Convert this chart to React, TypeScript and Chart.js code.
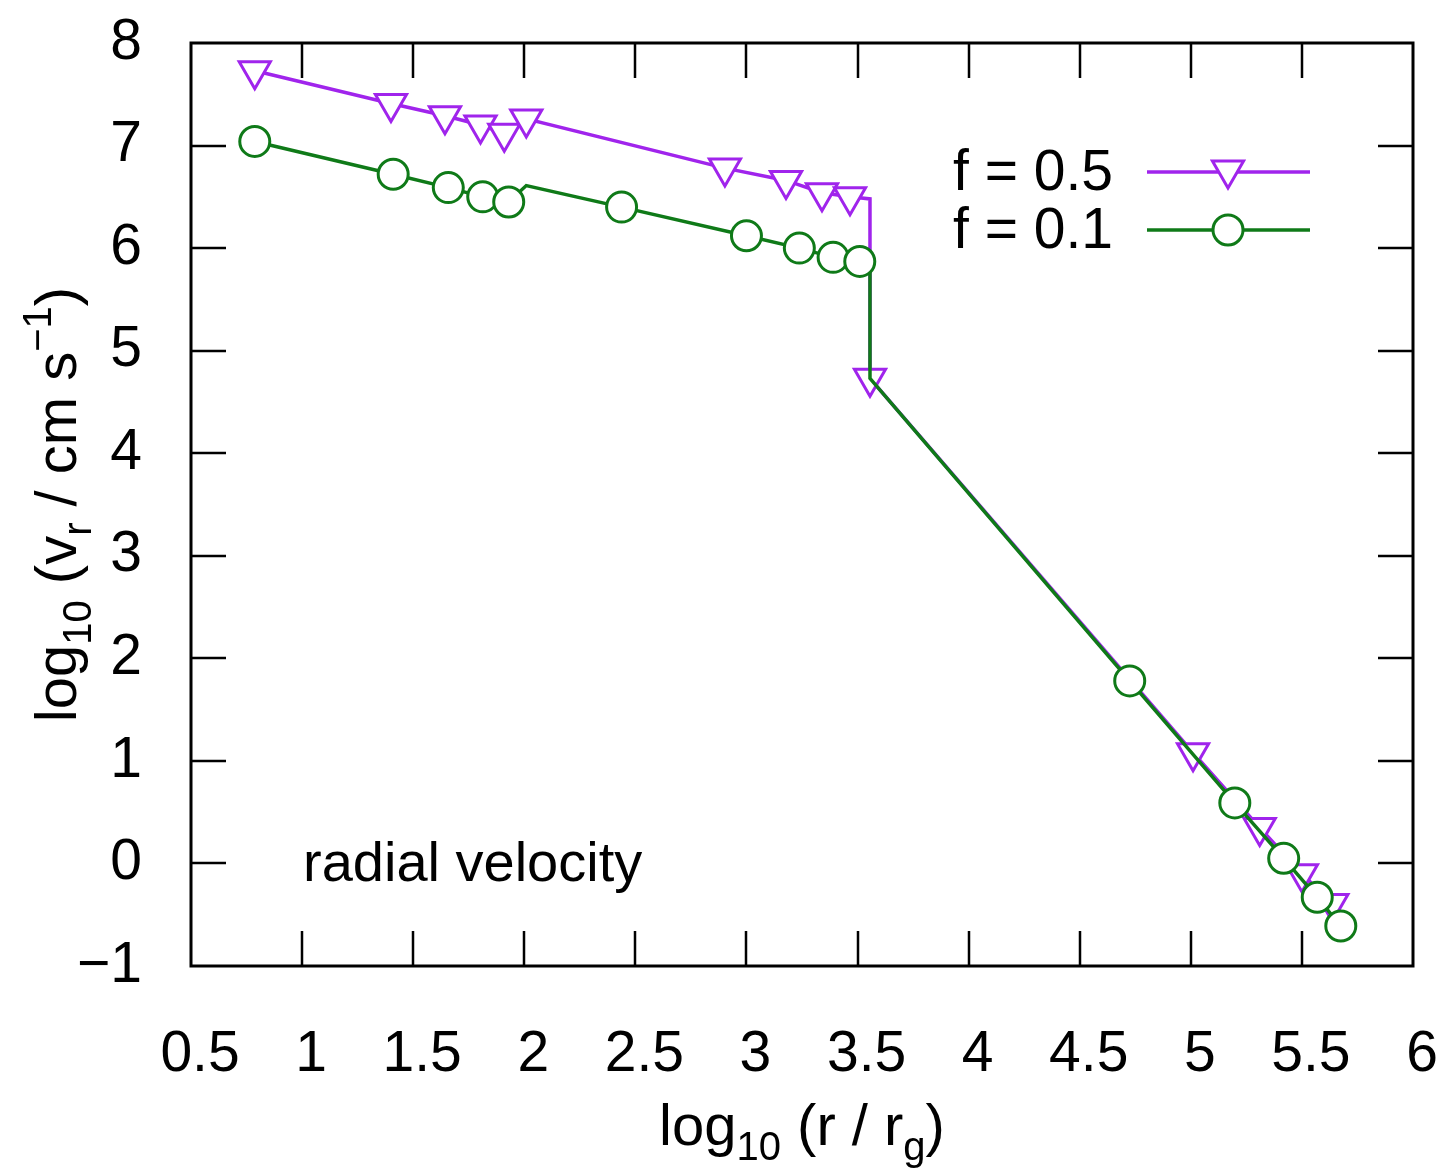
import React, { useEffect, useRef } from 'react';
import { Chart, registerables } from 'chart.js';

Chart.register(...registerables);

// ---- data ----
const X_TICKS = [0.5, 1, 1.5, 2, 2.5, 3, 3.5, 4, 4.5, 5, 5.5, 6];
const X_TICK_LABELS = ['0.5', '1', '1.5', '2', '2.5', '3', '3.5', '4', '4.5', '5', '5.5', '6'];
const Y_TICKS = [-1, 0, 1, 2, 3, 4, 5, 6, 7, 8];
const Y_TICK_LABELS = ['\u22121', '0', '1', '2', '3', '4', '5', '6', '7', '8'];

const SERIES_LABELS = ['f = 0.5', 'f = 0.1'];
const ANNOTATION = 'radial velocity';

// f = 0.5 (purple, down triangles)
const F05_X = [0.787, 1.40, 1.643, 1.803, 1.91, 2.009, 2.903, 3.178, 3.34, 3.466, 3.556, 3.556, 5.01, 5.31, 5.50, 5.637];
const F05_Y = [7.73, 7.41, 7.29, 7.20, 7.12, 7.26, 6.78, 6.66, 6.54, 6.50, 6.48, 4.73, 1.08, 0.35, -0.10, -0.39];
const F05_MARK = [1, 1, 1, 1, 1, 1, 1, 1, 1, 1, 0, 1, 1, 1, 1, 1];

// f = 0.1 (green, circles)
const F01_X = [0.787, 1.41, 1.658, 1.813, 1.93, 2.009, 2.438, 3.0, 3.238, 3.39, 3.51, 3.556, 3.556, 4.725, 5.198, 5.418, 5.569, 5.675];
const F01_Y = [7.04, 6.72, 6.59, 6.50, 6.45, 6.61, 6.40, 6.12, 6.00, 5.91, 5.87, 5.86, 4.73, 1.78, 0.59, 0.05, -0.33, -0.61];
const F01_MARK = [1, 1, 1, 1, 1, 0, 1, 1, 1, 1, 1, 0, 0, 1, 1, 1, 1, 1];

const PURPLE = '#a024ec';
const GREEN = '#0f7a18';
const FONT = '"Liberation Sans", Arial, Helvetica, sans-serif';
const FS = 57;
const FT = 58;
const FSUB = 40;

type Part = { t: string; s: number; dy: number };

function drawRich(ctx: CanvasRenderingContext2D, parts: Part[], cx: number, baseY: number) {
  let total = 0;
  for (const p of parts) {
    ctx.font = `${p.s}px ${FONT}`;
    total += ctx.measureText(p.t).width;
  }
  let x = cx - total / 2;
  ctx.textAlign = 'left';
  ctx.textBaseline = 'alphabetic';
  for (const p of parts) {
    ctx.font = `${p.s}px ${FONT}`;
    ctx.fillText(p.t, x, baseY + p.dy);
    x += ctx.measureText(p.t).width;
  }
}

function drawTriangle(ctx: CanvasRenderingContext2D, x: number, y: number, r: number) {
  ctx.beginPath();
  for (let i = 0; i < 3; i++) {
    const a = Math.PI + (i * 2 * Math.PI) / 3;
    const px = x + Math.sin(a) * r;
    const py = y - Math.cos(a) * r;
    if (i === 0) ctx.moveTo(px, py);
    else ctx.lineTo(px, py);
  }
  ctx.closePath();
  ctx.fillStyle = '#fff';
  ctx.fill();
  ctx.stroke();
}

const decor = {
  id: 'decor',
  beforeDatasetsDraw(chart: any) {
    const { ctx, chartArea: a, scales } = chart;
    ctx.save();
    ctx.strokeStyle = '#000';
    ctx.lineWidth = 2.5;
    const tl = 35;
    ctx.beginPath();
    for (const v of X_TICKS) {
      if (v === X_TICKS[0] || v === X_TICKS[X_TICKS.length - 1]) continue;
      const px = Math.round(scales.x.getPixelForValue(v));
      ctx.moveTo(px, a.bottom);
      ctx.lineTo(px, a.bottom - tl);
      ctx.moveTo(px, a.top);
      ctx.lineTo(px, a.top + tl);
    }
    for (const v of Y_TICKS) {
      if (v === Y_TICKS[0] || v === Y_TICKS[Y_TICKS.length - 1]) continue;
      const py = Math.round(scales.y.getPixelForValue(v));
      ctx.moveTo(a.left, py);
      ctx.lineTo(a.left + tl, py);
      ctx.moveTo(a.right, py);
      ctx.lineTo(a.right - tl, py);
    }
    ctx.stroke();
    ctx.lineWidth = 3;
    ctx.strokeRect(a.left, a.top, a.right - a.left, a.bottom - a.top);
    ctx.restore();
  },
  afterDraw(chart: any) {
    const { ctx, chartArea: a } = chart;
    ctx.save();
    ctx.fillStyle = '#000';

    const rows = [
      { label: SERIES_LABELS[0], color: PURPLE, y: 172, tri: true },
      { label: SERIES_LABELS[1], color: GREEN, y: 230, tri: false },
    ];
    for (const r of rows) {
      ctx.font = `${FS}px ${FONT}`;
      ctx.textAlign = 'right';
      ctx.textBaseline = 'middle';
      ctx.fillStyle = '#000';
      ctx.fillText(r.label, 1113, r.y + 2);
      ctx.strokeStyle = r.color;
      ctx.lineWidth = 3.5;
      ctx.beginPath();
      ctx.moveTo(1147, r.y);
      ctx.lineTo(1310, r.y);
      ctx.stroke();
      ctx.lineWidth = 3;
      if (r.tri) {
        drawTriangle(ctx, 1228, r.y - 2, 18);
      } else {
        ctx.beginPath();
        ctx.arc(1228, r.y, 15, 0, Math.PI * 2);
        ctx.fillStyle = '#fff';
        ctx.fill();
        ctx.stroke();
      }
    }

    ctx.fillStyle = '#000';
    ctx.font = `56px ${FONT}`;
    ctx.textAlign = 'left';
    ctx.textBaseline = 'alphabetic';
    ctx.fillText(ANNOTATION, 303, 881);

    const cx = (a.left + a.right) / 2;
    drawRich(
      ctx,
      [
        { t: 'log', s: FT, dy: 0 },
        { t: '10', s: FSUB, dy: 15 },
        { t: ' (r / r', s: FT, dy: 0 },
        { t: 'g', s: FSUB, dy: 15 },
        { t: ')', s: FT, dy: 0 },
      ],
      cx,
      1145
    );

    const cy = (a.top + a.bottom) / 2;
    ctx.translate(76, cy);
    ctx.rotate(-Math.PI / 2);
    drawRich(
      ctx,
      [
        { t: 'log', s: FT, dy: 0 },
        { t: '10', s: FSUB, dy: 15 },
        { t: ' (v', s: FT, dy: 0 },
        { t: 'r', s: FSUB, dy: 15 },
        { t: ' / cm s', s: FT, dy: 0 },
        { t: '\u22121', s: FSUB, dy: -25 },
        { t: ')', s: FT, dy: 0 },
      ],
      0,
      0
    );
    ctx.restore();
  },
};

function toPoints(xs: number[], ys: number[]) {
  return xs.map((x, i) => ({ x, y: ys[i] }));
}

function zeroPad(s: any) {
  s.paddingTop = 0;
  s.paddingBottom = 0;
  s.paddingLeft = 0;
  s.paddingRight = 0;
}

export default function App() {
  const ref = useRef<HTMLCanvasElement | null>(null);

  useEffect(() => {
    if (!ref.current) return;
    Chart.defaults.font.family = FONT;
    const chart = new Chart(ref.current, {
      type: 'line',
      data: {
        datasets: [
          {
            label: SERIES_LABELS[1],
            data: toPoints(F01_X, F01_Y),
            borderColor: GREEN,
            backgroundColor: '#ffffff',
            borderWidth: 3.5,
            pointStyle: 'circle',
            pointRadius: F01_MARK.map((m) => (m ? 15 : 0)),
            pointBorderWidth: 3,
            pointBorderColor: GREEN,
            pointBackgroundColor: '#ffffff',
            pointHoverRadius: 0,
            tension: 0,
            order: 0,
          },
          {
            label: SERIES_LABELS[0],
            data: toPoints(F05_X, F05_Y),
            borderColor: PURPLE,
            backgroundColor: '#ffffff',
            borderWidth: 3.5,
            pointStyle: 'triangle',
            pointRotation: 180,
            pointRadius: F05_MARK.map((m) => (m ? 18 : 0)),
            pointBorderWidth: 3,
            pointBorderColor: PURPLE,
            pointBackgroundColor: '#ffffff',
            pointHoverRadius: 0,
            tension: 0,
            order: 1,
          },
        ],
      },
      options: {
        animation: false,
        responsive: false,
        maintainAspectRatio: false,
        events: [],
        layout: { padding: { top: 43, right: 33, left: 0, bottom: 0 } },
        plugins: {
          legend: { display: false },
          tooltip: { enabled: false },
          title: { display: false },
        },
        scales: {
          x: {
            type: 'linear',
            min: 0.5,
            max: 6,
            grid: { display: false },
            border: { display: false },
            afterBuildTicks: (s: any) => {
              s.ticks = X_TICKS.map((v) => ({ value: v }));
            },
            afterFit: (s: any) => {
              s.height = 210;
              zeroPad(s);
            },
            ticks: {
              color: '#000',
              font: { size: FS, family: FONT },
              padding: 47,
              labelOffset: 9,
              maxRotation: 0,
              autoSkip: false,
              callback: (_v: any, i: number) => X_TICK_LABELS[i],
            },
          },
          y: {
            type: 'linear',
            min: -1,
            max: 8,
            grid: { display: false },
            border: { display: false },
            afterBuildTicks: (s: any) => {
              s.ticks = Y_TICKS.map((v) => ({ value: v }));
            },
            afterFit: (s: any) => {
              s.width = 191;
              zeroPad(s);
            },
            ticks: {
              color: '#000',
              font: { size: FS, family: FONT },
              padding: 41,
              autoSkip: false,
              callback: (_v: any, i: number) => Y_TICK_LABELS[i],
            },
          },
        },
      },
      plugins: [decor],
    } as any);
    return () => chart.destroy();
  }, []);

  return (
    <div style={{ position: 'fixed', left: 0, top: 0, width: 1446, height: 1176, background: '#fff', overflow: 'hidden' }}>
      <canvas ref={ref} width={1446} height={1176} style={{ display: 'block', width: 1446, height: 1176 }} />
    </div>
  );
}
